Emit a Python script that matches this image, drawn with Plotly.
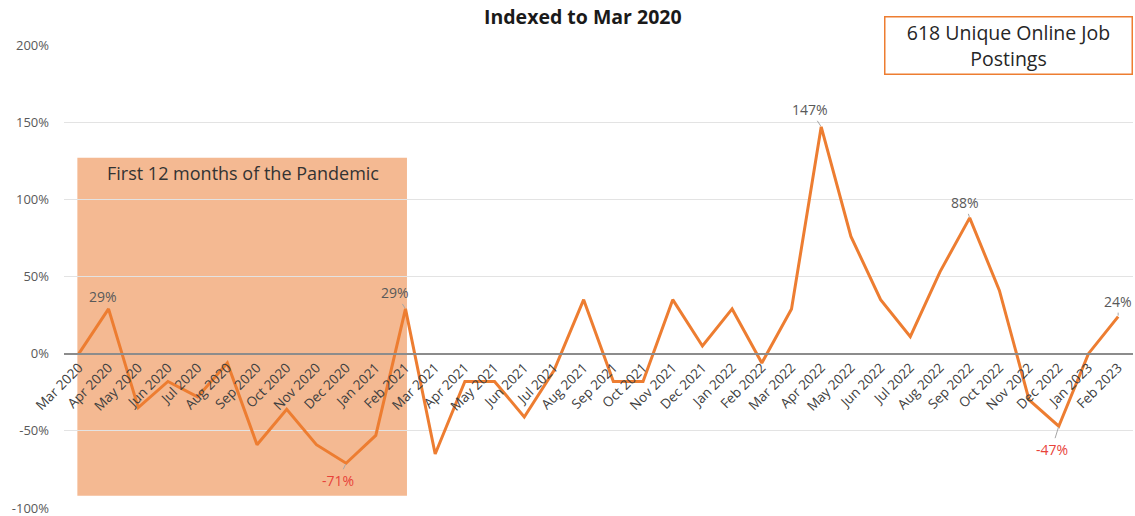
import plotly.graph_objects as go

months = ["Mar 2020", "Apr 2020", "May 2020", "Jun 2020", "Jul 2020", "Aug 2020",
          "Sep 2020", "Oct 2020", "Nov 2020", "Dec 2020", "Jan 2021", "Feb 2021",
          "Mar 2021", "Apr 2021", "May 2021", "Jun 2021", "Jul 2021", "Aug 2021",
          "Sep 2021", "Oct 2021", "Nov 2021", "Dec 2021", "Jan 2022", "Feb 2022",
          "Mar 2022", "Apr 2022", "May 2022", "Jun 2022", "Jul 2022", "Aug 2022",
          "Sep 2022", "Oct 2022", "Nov 2022", "Dec 2022", "Jan 2023", "Feb 2023"]
values = [0, 29, -35, -18, -28, -6, -59, -36, -59, -71, -53, 29,
          -65, -18, -18, -41, -11, 35, -18, -18, 35, 5, 29, -6,
          29, 147, 76, 35, 11, 53, 88, 41, -30, -47, 0, 24]
labeled_idx = [1, 9, 11, 25, 30, 33, 35]
label_offsets = [(-6, -12), (-8, 17), (-10, -16), (-11, -17), (-5, -15), (-7, 23), (0, -15)]
y_ticks = [-100, -50, 0, 50, 100, 150, 200]
y_tick_text = ["-100%", "-50%", "0%", "50%", "100%", "150%", "200%"]

ORANGE = "#ED7D31"
FONT = "Open Sans"

fig = go.Figure()
fig.add_trace(go.Scatter(x=months, y=values, mode="lines",
                         line=dict(color=ORANGE, width=3), hoverinfo="skip",
                         showlegend=False))

# shaded pandemic region
fig.add_shape(type="rect", xref="x", yref="y", x0=-0.05, x1=11.05, y0=-92, y1=127,
              fillcolor="rgb(244,185,146)", line=dict(width=0), layer="below")
fig.add_annotation(x=5.52, y=117, xref="x", yref="y", text="First 12 months of the Pandemic",
                   showarrow=False, font=dict(family=FONT, size=18, color="#333333"))

# data labels
for i, (ax, ay) in zip(labeled_idx, label_offsets):
    v = values[i]
    col = "#E8433A" if v < 0 else "#595959"
    fig.add_annotation(x=i, y=v, xref="x", yref="y", text=f"{v}%",
                       showarrow=True, arrowhead=0, arrowwidth=1, arrowcolor="#A6A6A6",
                       ax=ax, ay=ay, standoff=1,
                       font=dict(family=FONT, size=14, color=col))

# title
fig.add_annotation(x=0.4855, y=1.0605, xref="paper", yref="paper", text="<b>Indexed to Mar 2020</b>",
                   showarrow=False, yanchor="middle",
                   font=dict(family=FONT, size=19.5, color="#1a1a1a"))

# info box
fig.add_annotation(x=0.884, y=0.998, xref="paper", yref="paper",
                   text="618 Unique Online Job<br>Postings", showarrow=False,
                   xanchor="center", yanchor="middle", width=242, height=52,
                   bordercolor=ORANGE, borderwidth=1.5, borderpad=2, bgcolor="white",
                   font=dict(family=FONT, size=19.5, color="#262626"))

fig.update_layout(
    width=1135, height=516,
    margin=dict(l=64, r=2, t=45, b=8),
    paper_bgcolor="white", plot_bgcolor="white",
    font=dict(family=FONT, size=13, color="#595959"),
    showlegend=False,
)
fig.update_xaxes(type="category", range=[-0.5, 35.5], anchor="free", position=1/3,
                 showgrid=False, showline=True, linecolor="#8C8C8C", linewidth=2,
                 tickangle=-45, ticks="", tickfont=dict(family=FONT, size=13.5, color="#404040"),
                 zeroline=False, automargin=False)
fig.update_yaxes(range=[-100, 200], tickvals=y_ticks, ticktext=y_tick_text,
                 showgrid=True, gridcolor="#E3E3E3", gridwidth=1, zeroline=False,
                 ticklabelstandoff=14, ticklabeloverflow="allow", automargin=False,
                 tickfont=dict(family=FONT, size=13, color="#595959"))

fig.write_html("out.html")
